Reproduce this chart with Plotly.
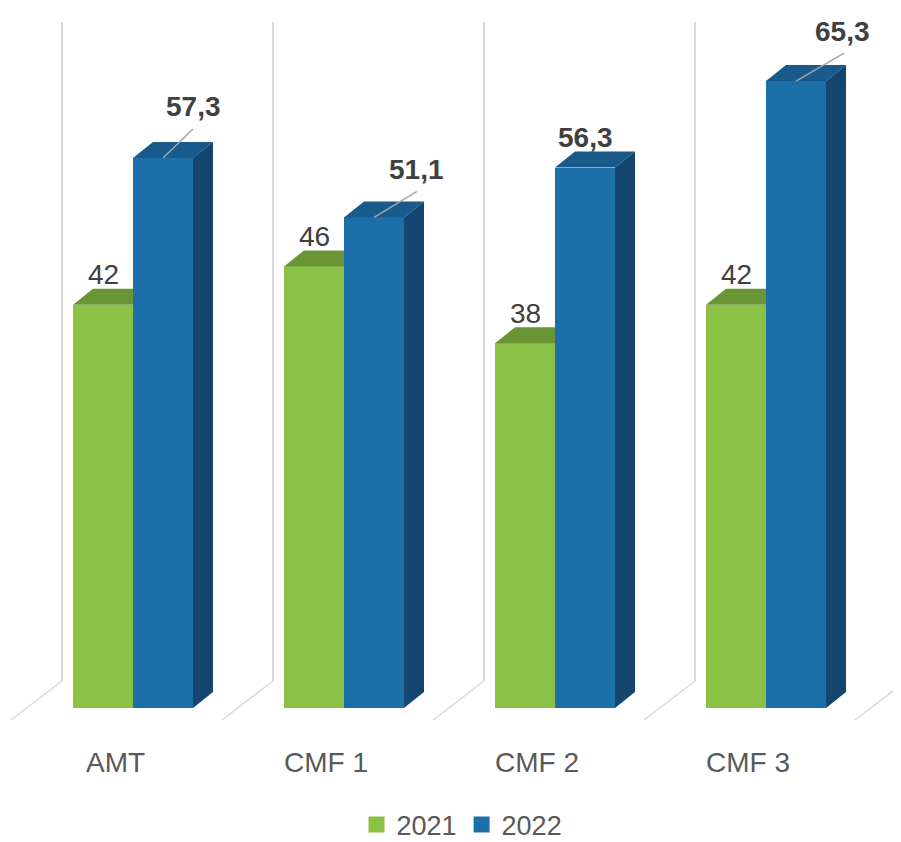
import plotly.graph_objects as go

# data
categories = ["AMT", "CMF 1", "CMF 2", "CMF 3"]
series_names = ["2021", "2022"]
values_2021 = [42, 46, 38, 42]
values_2022 = [57.3, 51.1, 56.3, 65.3]

# the page puts the figure 8px in from the top and left (body margin)
OFF = 8
W, H = 901 - OFF, 842 - OFF
PX_CAT = 211.0       # pixels per category
PX_VAL = 9.6         # pixels per value unit
BASE_PX = 708 - OFF  # figure row of value 0 (front plane)
LEFT_PX = 62 - OFF   # figure column of first back-wall line

bar_w = 60 / PX_CAT
pad = 11 / PX_CAT
dx = 20 / PX_CAT
dy = 16 / PX_VAL

GREEN, GREEN_TOP = "#8BC145", "#6A9535"
BLUE, BLUE_TOP, BLUE_SIDE = "#1C6FA8", "#175A8B", "#14466F"
GRID = "#D9D9D9"
TXT = "#404040"
FONT = "Liberation Sans"

# blue label offsets (px right, px up from bar top) and leader end (px), None = no leader
blue_label_pos = [(30, 51, (30, 29)), (42, 48, (43, 26)), (0, 30, None), (46, 50, (48, 28))]


def fmt(v):
    return f"{v:g}".replace(".", ",")


def vy(page_px):
    # page pixel row -> value units
    return (BASE_PX - (page_px - OFF)) / PX_VAL


fig = go.Figure()

g_x0 = [k + pad for k in range(len(categories))]
b_x0 = [x + bar_w for x in g_x0]

# front faces
fig.add_trace(go.Bar(x=[x + bar_w / 2 for x in g_x0], y=values_2021, width=bar_w,
                     marker=dict(color=GREEN, line=dict(width=0)), showlegend=False,
                     hoverinfo="skip"))
fig.add_trace(go.Bar(x=[x + bar_w / 2 for x in b_x0], y=values_2022, width=bar_w,
                     marker=dict(color=BLUE, line=dict(width=0)), showlegend=False,
                     hoverinfo="skip"))


def poly(xs, ys, color):
    fig.add_trace(go.Scatter(x=xs + [xs[0]], y=ys + [ys[0]], mode="lines", fill="toself",
                             fillcolor=color, line=dict(width=0, color=color),
                             showlegend=False, hoverinfo="skip"))


for k in range(len(categories)):
    g, b = values_2021[k], values_2022[k]
    x0, x1, x2 = g_x0[k], b_x0[k], b_x0[k] + bar_w
    # green top (right part hidden behind blue bar)
    poly([x0, x1, x1, x0 + dx], [g, g, g + dy, g + dy], GREEN_TOP)
    # blue top and side
    poly([x1, x2, x2 + dx, x1 + dx], [b, b, b + dy, b + dy], BLUE_TOP)
    poly([x2, x2, x2 + dx, x2 + dx], [0, b, b + dy, dy], BLUE_SIDE)

# back wall lines and floor diagonals
wall_base = vy(681)
wall_top = vy(22)
floor_dx = 51 / PX_CAT
floor_y = vy(720)
for k in range(len(categories) + 1):
    fig.add_shape(type="line", x0=k, x1=k, y0=wall_base, y1=wall_top, layer="below",
                  line=dict(color=GRID, width=2))
    fig.add_shape(type="line", x0=k, x1=k - floor_dx, y0=wall_base, y1=floor_y, layer="below",
                  line=dict(color=GRID, width=1.5))

# data labels
for k in range(len(categories)):
    g, b = values_2021[k], values_2022[k]
    fig.add_annotation(x=g_x0[k] + bar_w / 2, y=g + 30 / PX_VAL, text=fmt(g), showarrow=False,
                       font=dict(family=FONT, size=28, color=TXT), xanchor="center", yanchor="middle")
    ox, oy, lead = blue_label_pos[k]
    cx = b_x0[k] + bar_w / 2
    fig.add_annotation(x=cx + ox / PX_CAT, y=b + oy / PX_VAL, text="<b>" + fmt(b) + "</b>",
                       showarrow=False, font=dict(family=FONT, size=28, color=TXT),
                       xanchor="center", yanchor="middle")
    if lead:
        fig.add_trace(go.Scatter(x=[cx, cx + lead[0] / PX_CAT], y=[b, b + lead[1] / PX_VAL],
                                 mode="lines", line=dict(color="#A6A6A6", width=1.5),
                                 showlegend=False, hoverinfo="skip"))

# category labels
for k, c in enumerate(categories):
    fig.add_annotation(x=k + 53 / PX_CAT, y=vy(762), text=c, showarrow=False,
                       font=dict(family=FONT, size=28, color="#595959"),
                       xanchor="center", yanchor="middle")

# legend entries
for name, col in zip(series_names, [GREEN, BLUE]):
    fig.add_trace(go.Scatter(x=[None], y=[None], mode="markers", name=name,
                             marker=dict(symbol="square", size=17, color=col)))

fig.update_layout(
    width=W, height=H,
    margin=dict(l=0, r=0, t=0, b=0, autoexpand=False),
    paper_bgcolor="white", plot_bgcolor="white",
    barmode="overlay", bargap=0,
    xaxis=dict(visible=False, range=[-LEFT_PX / PX_CAT, (W - LEFT_PX) / PX_CAT], fixedrange=True),
    yaxis=dict(visible=False, range=[(BASE_PX - H) / PX_VAL, BASE_PX / PX_VAL], fixedrange=True),
    legend=dict(orientation="h", x=(462 - OFF) / W, xanchor="center",
                y=(H - (825 - OFF)) / H, yanchor="middle",
                font=dict(family=FONT, size=27, color="#595959"), itemwidth=30,
                bgcolor="rgba(0,0,0,0)"),
    showlegend=True,
)

fig.write_html("out.html")
